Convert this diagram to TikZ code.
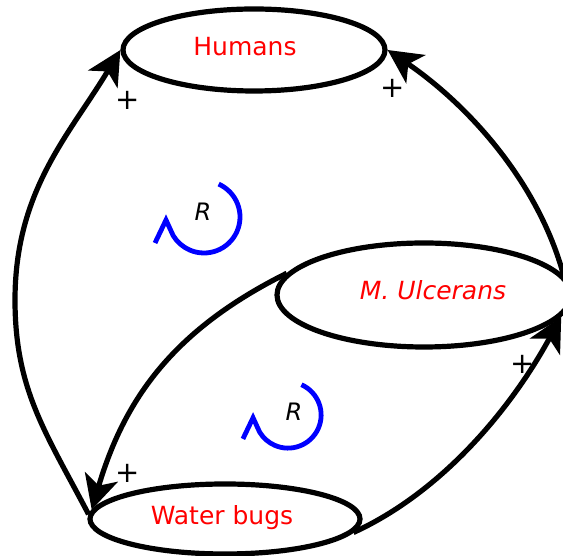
\documentclass[tikz,border=0pt]{standalone}
\usepackage{fontspec}
\setmainfont{DejaVu Sans}
\usetikzlibrary{shapes.geometric,arrows.meta}
\begin{document}
\begin{tikzpicture}[x=1pt,y=1pt,
  blob/.style={ellipse,draw=black,line width=5.2pt,inner sep=0pt},
  lbl/.style={text=red,font=\fontsize{25}{30}\selectfont,anchor=base,inner sep=0pt},
  sign/.style={font=\fontsize{29}{32}\selectfont,inner sep=0pt},
  link/.style={line width=5.2pt,-{Stealth[length=34pt,width=34pt,inset=9pt]}},
  loopsty/.style={draw=blue,line width=4.8pt},
  rlabel/.style={font=\itshape\fontsize{24}{28}\selectfont,inner sep=0pt}]
\useasboundingbox (0,0) rectangle (563,556);
% ellipses
\node[blob,minimum width=262pt,minimum height=82pt] (hum) at (254,506) {};
\node[blob,minimum width=294pt,minimum height=104pt] (ulc) at (424,261) {};
\node[blob,minimum width=270pt,minimum height=70pt] (wb) at (225,37) {};
% labels
\node[lbl] (humt) at (245,500) {Humans};
\node[lbl,font=\itshape\fontsize{25}{30}\selectfont] (ulct) at (433,256) {M. Ulcerans};
\node[lbl] (wbt) at (222,31) {Water bugs};
% connectors
\draw[link] (wb.178) .. controls (46,123) and (15,166) .. (15,256)
  .. controls (15,366) and (70,422) .. (hum.west);
\draw[link] (ulc.8) .. controls (538,375) and (467,452) .. (hum.east);
\draw[link] (ulc.171) .. controls (175,227) and (125,159) .. (wb.176);
\draw[link] (wb.-6.5) .. controls (442,64) and (511,147) .. (ulc.-9);
% signs
\node[sign] (p1) at (128,456) {+};
\node[sign] (p2) at (393,468) {+};
\node[sign] (p3) at (128,83) {+};
\node[sign] (p4) at (523,192) {+};
% loops
\begin{scope}[shift={(204,339)}]
  \draw[loopsty] (66:36) arc[start angle=66,end angle=-149,radius=36] -- (-38,-3) -- (-49,-26);
\end{scope}
\begin{scope}[shift={(288,141)},scale=0.92]
  \draw[loopsty] (66:36) arc[start angle=66,end angle=-149,radius=36] -- (-38,-3) -- (-49,-26);
\end{scope}
\node[rlabel] (r1) at (203,344) {R};
\node[rlabel] (r2) at (294,144) {R};
\end{tikzpicture}
\end{document}
